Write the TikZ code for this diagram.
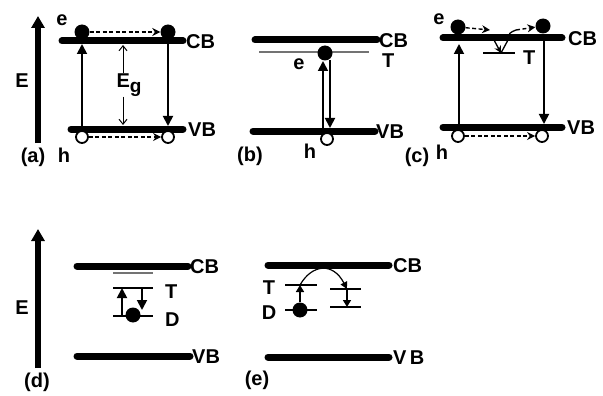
\documentclass[tikz,border=0pt]{standalone}
\usepackage{fontspec}
\setmainfont{Liberation Sans}
\usetikzlibrary{arrows.meta}
\begin{document}
\begin{tikzpicture}[x=1pt,y=-1pt,
  lab/.style={font=\bfseries\fontsize{20}{20}\selectfont, inner sep=0pt},
  band/.style={line width=7pt, line cap=round},
  lvl/.style={line width=1.4pt},
  graylvl/.style={line width=1.6pt, draw=black!55},
  eaxis/.style={line width=6pt, -{Triangle[length=12pt,width=13pt]}},
  trans/.style={line width=1.8pt, -{Triangle[length=10pt,width=10pt]}},
  smalltrans/.style={line width=1.5pt, -{Triangle[length=7pt,width=8pt]}},
  hop/.style={line width=1.4pt, dash pattern=on 4pt off 2.5pt, -{Stealth[length=8pt,width=8pt]}},
  gaparrow/.style={line width=1pt, -{Straight Barb[length=5pt,width=8pt]}},
  elec/.style={circle, fill=black, minimum size=15pt, inner sep=0pt},
  hole/.style={circle, draw, line width=1.8pt, fill=white, minimum size=12pt, inner sep=0pt}
]
\useasboundingbox (0,0) rectangle (603,396);

% ---------- (a) band-to-band ----------
\coordinate (aE0) at (38,143); \coordinate (aE1) at (38,16);
\draw[eaxis] (aE0) -- (aE1);
\node[lab] at (22,81) {E};
\coordinate (aC0) at (62,41);  \coordinate (aC1) at (183,41);
\coordinate (aV0) at (71,129); \coordinate (aV1) at (183,129);
\draw[band] (aC0) -- (aC1);
\draw[band] (aV0) -- (aV1);
\node[lab, anchor=west] at (186,42) {CB};
\node[lab, anchor=west] at (188,130) {VB};
\coordinate (aUp0) at (82,129); \coordinate (aUp1) at (82,44);
\coordinate (aDn0) at (168,41); \coordinate (aDn1) at (168,126);
\draw[trans] (aUp0) -- (aUp1);
\draw[trans] (aDn0) -- (aDn1);
\node[elec] (a1) at (82,32) {};
\node[elec] (a2) at (168,32) {};
\node[hole] (ah1) at (82,137) {};
\node[hole] (ah2) at (168,137) {};
\draw[hop] (a1) -- (a2);
\draw[hop] (ah1) -- (ah2);
\node[lab] (eg) at (129,85) {E\raisebox{-5pt}{\fontsize{19}{19}\selectfont g}};
\coordinate (egT) at (123,45); \coordinate (egB) at (123,125);
\draw[gaparrow] (eg.north -| egT) -- (egT);
\draw[gaparrow] (eg.south -| egB) -- (egB);
\node[lab] at (62,20) {e};
\node[lab] at (64,155) {h};
\node[lab] at (33,157) {(a)};

% ---------- (b) trap level ----------
\coordinate (bC0) at (255,40);  \coordinate (bC1) at (377,40);
\coordinate (bT0) at (259,52);  \coordinate (bT1) at (369,52);
\coordinate (bV0) at (253,131); \coordinate (bV1) at (375,131);
\draw[band] (bC0) -- (bC1);
\draw[graylvl] (bT0) -- (bT1);
\draw[band] (bV0) -- (bV1);
\node[lab, anchor=west] at (379,41) {CB};
\node[lab, anchor=west] at (382,61) {T};
\node[lab, anchor=west] at (376,132) {VB};
\coordinate (bUp0) at (323,131); \coordinate (bUp1) at (323,61);
\coordinate (bDn0) at (330,60);  \coordinate (bDn1) at (330,128);
\node[elec] (b1) at (325,53) {};
\draw[trans] (bUp0) -- (bUp1);
\draw[trans] (bDn0) -- (bDn1);
\node[hole] (bh1) at (327,139) {};
\node[lab] at (299,64) {e};
\node[lab] at (310,151) {h};
\node[lab] at (250,156) {(b)};

% ---------- (c) trap-assisted ----------
\coordinate (cC0) at (443,38);  \coordinate (cC1) at (562,38);
\coordinate (cV0) at (443,127); \coordinate (cV1) at (562,127);
\coordinate (cT0) at (483,53);  \coordinate (cT1) at (515,53);
\draw[band] (cC0) -- (cC1);
\draw[band] (cV0) -- (cV1);
\draw[lvl] (cT0) -- (cT1);
\node[lab, anchor=west] at (568,39) {CB};
\node[lab, anchor=west] at (567,128) {VB};
\node[lab, anchor=west] at (523,58) {T};
\coordinate (cUp0) at (459,127); \coordinate (cUp1) at (459,44);
\coordinate (cDn0) at (544,38);  \coordinate (cDn1) at (544,124);
\draw[trans] (cUp0) -- (cUp1);
\draw[trans] (cDn0) -- (cDn1);
\node[elec] (c1) at (458,27) {};
\node[elec] (c2) at (543,26) {};
\node[hole] (ch1) at (458,136) {};
\node[hole] (ch2) at (542,136) {};
\coordinate (cA) at (490,30);
\coordinate (cB) at (494,40);
\coordinate (cM) at (501,53);
\coordinate (cD) at (508,40);
\coordinate (cE) at (516,30);
\draw[hop] (c1) -- (cA);
\draw[line width=1.3pt, -{Stealth[length=7pt,width=7pt]}] (cB) -- (cM);
\draw[line width=1.3pt] (cM) -- (cD) .. controls (509,33) .. (cE);
\draw[hop] (cE) -- (c2);
\draw[hop] (ch1) -- (ch2);
\node[lab] at (439,19) {e};
\node[lab] at (442,152) {h};
\node[lab] at (417,157) {(c)};

% ---------- (d) trap and donor ----------
\coordinate (dE0) at (38,368); \coordinate (dE1) at (38,229);
\draw[eaxis] (dE0) -- (dE1);
\node[lab] at (22,308) {E};
\coordinate (dC0) at (77,266);  \coordinate (dC1) at (188,266);
\coordinate (dV0) at (77,356);  \coordinate (dV1) at (190,356);
\draw[band] (dC0) -- (dC1);
\draw[band] (dV0) -- (dV1);
\node[lab, anchor=west] at (190,267) {CB};
\node[lab, anchor=west] at (192,357) {VB};
\coordinate (dG0) at (113,273); \coordinate (dG1) at (153,273);
\coordinate (dT0) at (113,288); \coordinate (dT1) at (153,288);
\coordinate (dD0) at (113,316); \coordinate (dD1) at (153,316);
\draw[graylvl] (dG0) -- (dG1);
\draw[lvl] (dT0) -- (dT1);
\draw[lvl] (dD0) -- (dD1);
\node[lab, anchor=west] at (165,292) {T};
\node[lab, anchor=west] at (165,320) {D};
\node[elec] (d1) at (133,315) {};
\coordinate (dUp0) at (122,316); \coordinate (dUp1) at (122,288);
\coordinate (dDn0) at (142,288); \coordinate (dDn1) at (142,310);
\draw[trans] (dUp0) -- (dUp1);
\draw[trans] (dDn0) -- (dDn1);
\node[lab] at (37,382) {(d)};

% ---------- (e) hopping between sites ----------
\coordinate (eC0) at (268,265); \coordinate (eC1) at (389,265);
\coordinate (eV0) at (268,357); \coordinate (eV1) at (389,357);
\draw[band] (eC0) -- (eC1);
\draw[band] (eV0) -- (eV1);
\node[lab, anchor=west] at (393,266) {CB};
\node[lab, anchor=west] at (393,358) {V\,B};
\coordinate (eT0) at (285,285); \coordinate (eT1) at (317,285);
\coordinate (eD0) at (285,310); \coordinate (eD1) at (317,310);
\coordinate (eR0) at (330,289); \coordinate (eR1) at (361,289);
\coordinate (eS0) at (330,307); \coordinate (eS1) at (361,307);
\draw[lvl] (eT0) -- (eT1);
\draw[lvl] (eD0) -- (eD1);
\draw[lvl] (eR0) -- (eR1);
\draw[lvl] (eS0) -- (eS1);
\node[lab] at (269,288) {T};
\node[lab] at (269,313) {D};
\node[elec] (e1) at (300,310) {};
\coordinate (eUp1) at (300,285);
\draw[smalltrans] (e1) -- (eUp1);
\coordinate (eHop) at (347,289);
\draw[line width=1.2pt, -{Triangle[length=7pt,width=7pt]}]
  (eUp1) .. controls (312,264) and (333,262) .. (eHop);
\coordinate (eDn1) at (347,307);
\draw[smalltrans] (eHop) -- (eDn1);
\node[lab] at (257,380) {(e)};
\end{tikzpicture}
\end{document}
